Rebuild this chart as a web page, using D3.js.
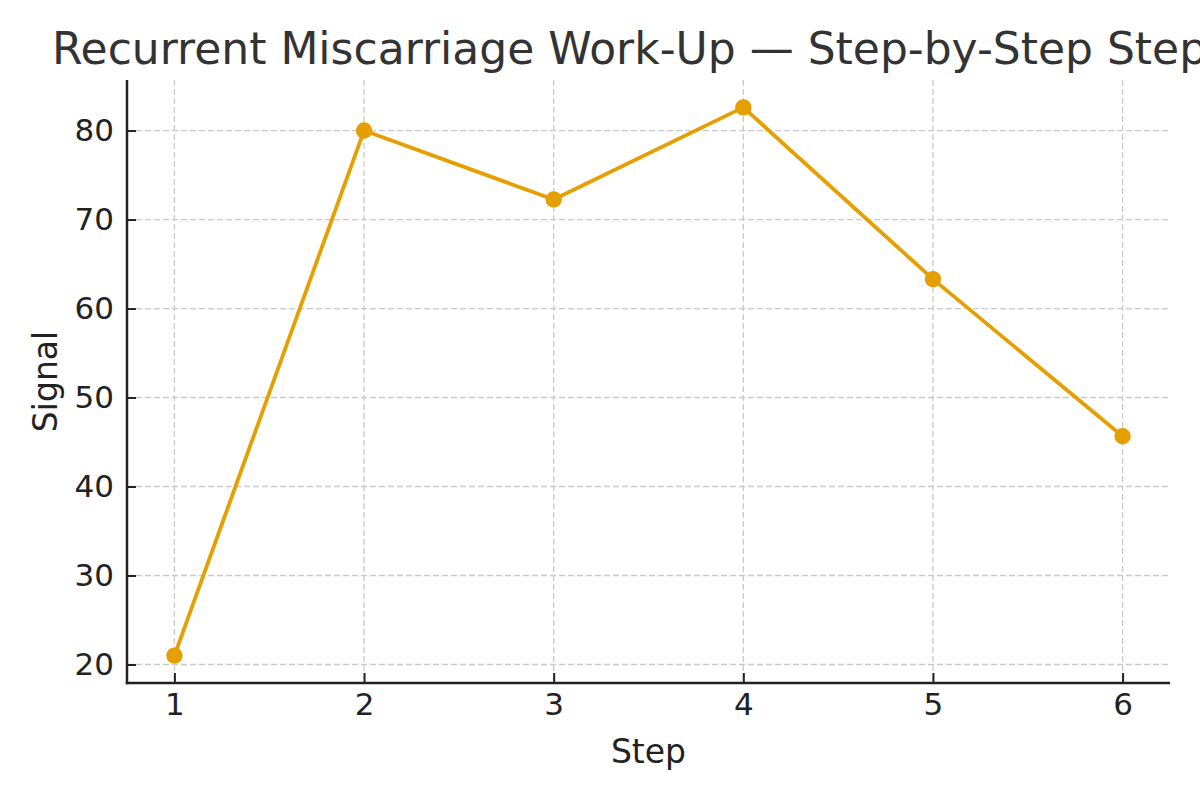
<!DOCTYPE html>
<html>
<head>
<meta charset="utf-8">
<script src="https://cdn.jsdelivr.net/npm/d3@7"></script>
<style>
  html, body { margin: 0; padding: 0; background: #fff; }
  svg { display: block; font-family: "DejaVu Sans", sans-serif; }
</style>
</head>
<body>
<svg id="chart" width="1200" height="800"></svg>
<script>
const titleText = "Recurrent Miscarriage Work-Up \u2014 Step-by-Step Steps";
const xLabel = "Step";
const yLabel = "Signal";
const steps = [1, 2, 3, 4, 5, 6];
const signal = [21.0, 80.0, 72.25, 82.6, 63.3, 45.65];
const xTicks = [1, 2, 3, 4, 5, 6];
const yTicks = [20, 30, 40, 50, 60, 70, 80];

const W = 1200, H = 800;
const margin = { left: 127, right: 30, top: 80, bottom: 117 };
const svg = d3.select("#chart");
const iw = W - margin.left - margin.right;
const ih = H - margin.top - margin.bottom;

function padDomain(ext) {
  const p = (ext[1] - ext[0]) * 0.05;
  return [ext[0] - p, ext[1] + p];
}
const x = d3.scaleLinear().domain(padDomain(d3.extent(steps))).range([0, iw]);
const y = d3.scaleLinear().domain(padDomain(d3.extent(signal))).range([ih, 0]);

const g = svg.append("g").attr("transform", `translate(${margin.left},${margin.top})`);

// grid
const grid = g.append("g").attr("class", "grid");
grid.selectAll("line.h").data(yTicks).enter().append("line")
  .attr("x1", 0).attr("x2", iw)
  .attr("y1", d => y(d)).attr("y2", d => y(d))
  .attr("stroke", "#c9c9c9").attr("stroke-width", 1.3).attr("stroke-dasharray", "6,3");
grid.selectAll("line.v").data(xTicks).enter().append("line")
  .attr("y1", 0).attr("y2", ih)
  .attr("x1", d => x(d)).attr("x2", d => x(d))
  .attr("stroke", "#c9c9c9").attr("stroke-width", 1.3).attr("stroke-dasharray", "6,3");

// line
const line = d3.line().x((d, i) => x(steps[i])).y(d => y(d));
g.append("path").datum(signal)
  .attr("fill", "none").attr("stroke", "#E69F00").attr("stroke-width", 3.8)
  .attr("stroke-linejoin", "round").attr("d", line);
g.selectAll("circle.pt").data(signal).enter().append("circle")
  .attr("cx", (d, i) => x(steps[i])).attr("cy", d => y(d)).attr("r", 8.2)
  .attr("fill", "#E69F00");

// axes
const xAxis = d3.axisBottom(x).tickValues(xTicks).tickFormat(d3.format("d"))
  .tickSizeInner(-10).tickSizeOuter(0).tickPadding(10);
const yAxis = d3.axisLeft(y).tickValues(yTicks).tickFormat(d3.format("d"))
  .tickSizeInner(-9).tickSizeOuter(0).tickPadding(13);

const gx = g.append("g").attr("transform", `translate(0,${ih})`).call(xAxis);
const gy = g.append("g").call(yAxis);
[gx, gy].forEach(a => {
  a.select(".domain").attr("stroke", "#222").attr("stroke-width", 2.5);
  a.selectAll(".tick line").attr("stroke", "#222").attr("stroke-width", 2);
  a.selectAll(".tick text").attr("fill", "#222")
    .style("font-family", "DejaVu Sans").style("font-size", "31px");
});
// extend domain lines to form corner
gx.select(".domain").attr("d", `M-1.25,0H${iw}`);
gy.select(".domain").attr("d", `M0,0V${ih + 1.25}`);
gx.selectAll(".tick text").attr("dy", "0.71em");

// labels
svg.append("text").attr("x", margin.left + iw / 2).attr("y", 763)
  .attr("text-anchor", "middle").attr("fill", "#222")
  .style("font-size", "33px").text(xLabel);
svg.append("text")
  .attr("transform", `translate(57,${margin.top + ih / 2}) rotate(-90)`)
  .attr("text-anchor", "middle").attr("fill", "#222")
  .style("font-size", "33px").text(yLabel);

svg.append("text").attr("x", 52).attr("y", 64)
  .attr("fill", "#333").style("font-size", "44px").text(titleText);
</script>
</body>
</html>
